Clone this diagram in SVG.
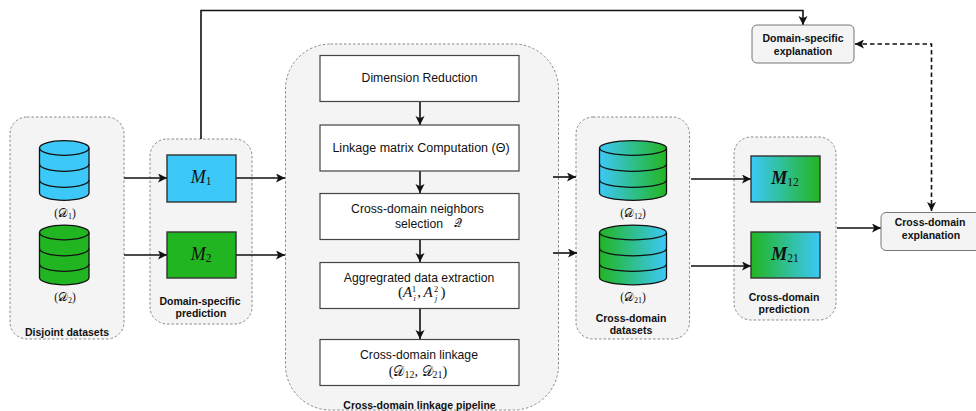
<svg xmlns="http://www.w3.org/2000/svg" width="976" height="411" viewBox="0 0 976 411">
<style>
text{font-family:"Liberation Sans",Arial,sans-serif;fill:#111;text-anchor:middle}
.c{fill:#f4f4f4;stroke:#8a8a8a;stroke-width:1;stroke-dasharray:2.5 2}
.t{font-size:10.5px;font-weight:bold}
.p{fill:#fff;stroke:#444;stroke-width:1.2}
.l{font-size:12.2px}
.ll{font-size:12.5px}
.m{font-family:"Liberation Serif",serif}
.i{font-style:italic}
.mb{font-size:18px;font-style:italic}
.mbb{font-size:18px;font-style:italic;font-weight:bold}
.ms{font-size:11.5px;font-style:normal;font-weight:normal}
.s{font-size:11.5px}
.e{fill:#f4f4f4;stroke:#777;stroke-width:1}
.k{stroke:#333;stroke-width:1.4}
.db{stroke:#111;stroke-width:1.3}
.w{fill:none;stroke:#111;stroke-width:1.3}
#connectors path{fill:none;stroke:#111;stroke-width:1.6}
</style>
<defs>
<marker id="a" markerWidth="11" markerHeight="11" refX="9" refY="4.500" orient="auto" markerUnits="userSpaceOnUse"><path d="M0 0L9 4.500L0 9L2.200 4.500Z" fill="#111"/></marker>
<marker id="b" markerWidth="11" markerHeight="11" refX="0" refY="4.500" orient="auto" markerUnits="userSpaceOnUse"><path d="M9 0L0 4.500L9 9L6.800 4.500Z" fill="#111"/></marker>
<linearGradient id="bg"><stop offset="0" stop-color="#3cc8f8"/><stop offset="1" stop-color="#22b522"/></linearGradient>
<linearGradient id="gb"><stop offset="0" stop-color="#22b522"/><stop offset="1" stop-color="#3cc8f8"/></linearGradient>
</defs>

<g id="disjoint"><rect class="c" x="10" y="117" width="114" height="222" rx="17"/><text class="t" x="67" y="336">Disjoint datasets</text></g>
<g id="domain-pred"><rect class="c" x="150" y="139" width="102" height="185" rx="17"/><text class="t"><tspan x="200" y="305">Domain-specific</tspan><tspan x="201" y="317">prediction</tspan></text></g>
<g id="pipeline"><rect class="c" x="285.500" y="44" width="273" height="366" rx="45"/><text class="t" x="419.500" y="409">Cross-domain linkage pipeline</text></g>
<g id="cross-datasets"><rect class="c" x="576" y="117" width="113.500" height="222" rx="17"/><text class="t"><tspan x="631" y="322">Cross-domain</tspan><tspan x="631" y="334">datasets</tspan></text></g>
<g id="cross-pred"><rect class="c" x="734" y="137" width="102" height="183" rx="17"/><text class="t"><tspan x="784" y="301">Cross-domain</tspan><tspan x="784" y="313">prediction</tspan></text></g>

<g id="connectors">
<path d="M124 178H167" marker-end="url(#a)"/>
<path d="M124 255H167" marker-end="url(#a)"/>
<path d="M236 178H285" marker-end="url(#a)"/>
<path d="M236 255H285" marker-end="url(#a)"/>
<path d="M201 139V10.500H803V25" marker-end="url(#a)"/>
<path d="M420 102V125" marker-end="url(#a)"/>
<path d="M420 171V193" marker-end="url(#a)"/>
<path d="M420 240V262" marker-end="url(#a)"/>
<path d="M420 309V339" marker-end="url(#a)"/>
<path d="M553 177H576" marker-end="url(#a)"/>
<path d="M553 253H577" marker-end="url(#a)"/>
<path d="M691 179H751" marker-end="url(#a)"/>
<path d="M691 266H751" marker-end="url(#a)"/>
<path d="M837 228H881" marker-end="url(#a)"/>
<path d="M855 44H931.500V211" stroke-dasharray="4.500 3" marker-start="url(#b)" marker-end="url(#a)"/>
</g>

<g id="db1"><path class="db" fill="#3cc8f8" d="M39.500 148A24.750 7.300 0 0 1 89 148V193A24.750 7.300 0 0 1 39.500 193Z"/><path class="w" d="M39.500 148A24.750 7.300 0 0 0 89 148M39.500 164A24.750 7.300 0 0 0 89 164M39.500 180A24.750 7.300 0 0 0 89 180"/><text class="m s" x="65" y="217">(𝒟<tspan font-size="8" dy="2">1</tspan><tspan dy="-2">)</tspan></text></g>
<g id="db2"><path class="db" fill="#22b522" d="M39.500 232.500A24.750 7.300 0 0 1 89 232.500V277.500A24.750 7.300 0 0 1 39.500 277.500Z"/><path class="w" d="M39.500 232.500A24.750 7.300 0 0 0 89 232.500M39.500 248.500A24.750 7.300 0 0 0 89 248.500M39.500 264A24.750 7.300 0 0 0 89 264"/><text class="m s" x="65" y="301">(𝒟<tspan font-size="8" dy="2">2</tspan><tspan dy="-2">)</tspan></text></g>
<g id="m1"><rect class="k" x="167" y="155" width="69" height="47" fill="#3cc8f8"/><text class="m mb" x="201" y="183">M<tspan class="ms" dy="2">1</tspan></text></g>
<g id="m2"><rect class="k" x="167" y="232" width="69" height="46" fill="#22b522"/><text class="m mb" x="201" y="260">M<tspan class="ms" dy="2">2</tspan></text></g>

<g id="step1"><rect class="p" x="320" y="55.500" width="199" height="46"/><text class="l" x="419.500" y="82">Dimension Reduction</text></g>
<g id="step2"><rect class="p" x="320" y="125" width="199" height="46"/><text class="ll" x="421" y="152">Linkage matrix Computation (Θ)</text></g>
<g id="step3"><rect class="p" x="320" y="193.500" width="199" height="46"/><text class="l"><tspan x="417.500" y="213">Cross-domain neighbors</tspan><tspan x="419" y="228">selection</tspan></text><text class="m" x="458" y="227" font-size="11">𝒬</text></g>
<g id="step4"><rect class="p" x="320" y="262.500" width="199" height="46"/><text class="l" x="419" y="282">Aggregrated data extraction</text><text class="m" x="405" y="297" font-size="15">(<tspan class="i">A</tspan></text><text class="m" x="414" y="292" font-size="9">1</text><text class="m i" x="414.500" y="301" font-size="8">i</text><text class="m" x="419" y="297" font-size="15">,</text><text class="m i" x="428" y="297" font-size="15">A</text><text class="m" x="436" y="292" font-size="9">2</text><text class="m i" x="436" y="301" font-size="8">j</text><text class="m" x="443" y="297" font-size="15">)</text></g>
<g id="step5"><rect class="p" x="320" y="339.500" width="199" height="46"/><text class="l" x="419" y="359">Cross-domain linkage</text><text class="m" x="418" y="376" font-size="14">(𝒟<tspan font-size="10" dy="2">12</tspan><tspan dy="-2">, </tspan>𝒟<tspan font-size="10" dy="2">21</tspan><tspan dy="-2">)</tspan></text></g>

<g id="db12"><path class="db" fill="url(#bg)" d="M599.500 148A33.500 7.300 0 0 1 666.500 148V193A33.500 7.300 0 0 1 599.500 193Z"/><path class="w" d="M599.500 148A33.500 7.300 0 0 0 666.500 148M599.500 164A33.500 7.300 0 0 0 666.500 164M599.500 180A33.500 7.300 0 0 0 666.500 180"/><text class="m s" x="633" y="217">(𝒟<tspan font-size="8" dy="2">12</tspan><tspan dy="-2">)</tspan></text></g>
<g id="db21"><path class="db" fill="url(#gb)" d="M599.500 232.500A33.500 7.300 0 0 1 666.500 232.500V277.500A33.500 7.300 0 0 1 599.500 277.500Z"/><path class="w" d="M599.500 232.500A33.500 7.300 0 0 0 666.500 232.500M599.500 248.500A33.500 7.300 0 0 0 666.500 248.500M599.500 264A33.500 7.300 0 0 0 666.500 264"/><text class="m s" x="633" y="301">(𝒟<tspan font-size="8" dy="2">21</tspan><tspan dy="-2">)</tspan></text></g>
<g id="m12"><rect class="k" x="751" y="156" width="69" height="46" fill="url(#bg)"/><text class="m mbb" x="785" y="184">M<tspan class="ms" dy="2">12</tspan></text></g>
<g id="m21"><rect class="k" x="751" y="232" width="69" height="46" fill="url(#gb)"/><text class="m mbb" x="785" y="260">M<tspan class="ms" dy="2">21</tspan></text></g>

<g id="domain-expl"><rect class="e" x="752" y="25" width="102" height="38" rx="5"/><text class="t"><tspan x="803" y="42">Domain-specific</tspan><tspan x="803" y="55">explanation</tspan></text></g>
<g id="cross-expl"><rect class="e" x="881" y="212.500" width="100" height="38" rx="5"/><text class="t"><tspan x="930" y="226">Cross-domain</tspan><tspan x="931" y="239">explanation</tspan></text></g>
</svg>
